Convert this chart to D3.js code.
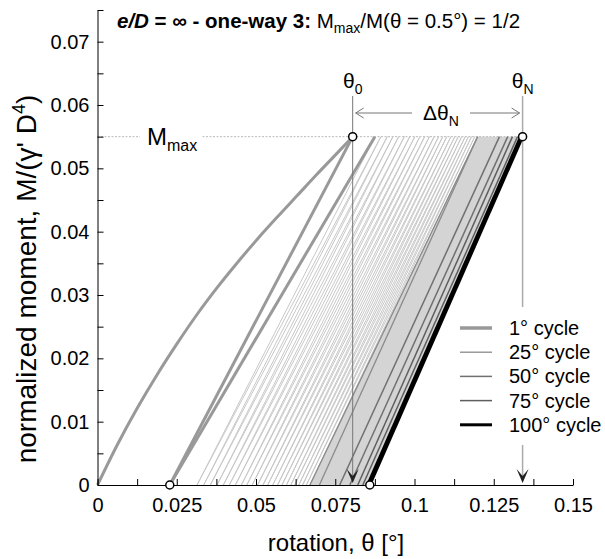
<!DOCTYPE html>
<html>
<head>
<meta charset="utf-8">
<script src="https://cdn.jsdelivr.net/npm/d3@7"></script>
<style>
  body { margin: 0; background: #fff; }
  svg text { font-family: "Liberation Sans", Arial, sans-serif; fill: #000; }
  .axis path, .axis line { stroke: #000; stroke-width: 1; fill: none; }
  .axis text { font-size: 20px; }
</style>
</head>
<body>
<svg id="chart" width="605" height="559"></svg>
<script>
// ---- data ----
var Mmax = 0.055;
var theta0 = 0.0805, thetaN = 0.1341;

// first (virgin) loading curve
var virginTheta = [0, 0.0063, 0.0126, 0.0189, 0.0252, 0.0315, 0.0378, 0.0441, 0.0504, 0.0567, 0.0630, 0.0693, 0.0756, 0.0805];
var virginM     = [0, 0.0064, 0.0122, 0.0175, 0.0224, 0.0270, 0.0312, 0.0351, 0.0388, 0.0423, 0.0457, 0.0491, 0.0524, 0.0550];

// residual rotation after first unloading
var firstResidual = 0.0228;

// peak rotation of cycles 2..25
var peakTheta = [0.0875, 0.0894, 0.0914, 0.0932, 0.0950, 0.0968, 0.0985, 0.1001, 0.1017, 0.1032,
                 0.1047, 0.1062, 0.1076, 0.1089, 0.1102, 0.1115, 0.1127, 0.1138, 0.1149, 0.1160,
                 0.1170, 0.1180, 0.1190, 0.1199];
// residual rotation (M = 0) after cycles 2..24
var residTheta = [0.0314, 0.0335, 0.0356, 0.0377, 0.0397, 0.0416, 0.0435, 0.0454, 0.0471, 0.0488,
                  0.0505, 0.0522, 0.0537, 0.0553, 0.0568, 0.0582, 0.0596, 0.0610, 0.0622, 0.0635,
                  0.0647, 0.0659, 0.0670];

// highlighted cycles: [bottom theta, top theta] for each branch
var hiNames  = ["25° cycle", "50° cycle", "75° cycle", "100° cycle"];
var hiLines  = [
  [[0.0670, 0.1199], [0.0700, 0.1199]],
  [[0.0764, 0.1268], [0.0796, 0.1294]],
  [[0.0821, 0.1309], [0.0837, 0.1325]],
  [[0.0852, 0.1335], [0.0859, 0.1341]]
];
var hiColor = ["#8a8a8a", "#707070", "#5e5e5e", "#000"];
var hiWidth = [1.3, 1.5, 1.5, 3];

var xMajor = [0, 0.025, 0.05, 0.075, 0.1, 0.125, 0.15];
var xMinor = [0.0125, 0.0375, 0.0625, 0.0875, 0.1125, 0.1375];
var yMajor = [0, 0.01, 0.02, 0.03, 0.04, 0.05, 0.06, 0.07];
var yMinor = [0.005, 0.015, 0.025, 0.035, 0.045, 0.055, 0.065, 0.075];

// ---- scales ----
var svg = d3.select("#chart");
var x = d3.scaleLinear().domain([0, 0.15]).range([97.5, 573]);
var y = d3.scaleLinear().domain([0, 0.075]).range([485, 10]);
var fmt = d3.format(".3~f");

// shaded band between cycle 25 and cycle 100
var band = [[hiLines[0][0][0], 0], [hiLines[0][0][1], Mmax], [hiLines[3][1][1], Mmax], [hiLines[3][1][0], 0]];
svg.append("path")
  .attr("d", d3.line().x(function (d) { return x(d[0]); }).y(function (d) { return y(d[1]); })(band) + "Z")
  .attr("fill", "#d4d4d4");

// Mmax guide line
svg.append("line")
  .attr("x1", x(0)).attr("x2", x(thetaN))
  .attr("y1", y(Mmax)).attr("y2", y(Mmax))
  .attr("stroke", "#bbb").attr("stroke-width", 1).attr("stroke-dasharray", "2,1.5");

// light intermediate cycles (2..24): unloading and reloading branches
var seg = function (a, b) {
  return "M" + x(a[0]) + "," + y(a[1]) + "L" + x(b[0]) + "," + y(b[1]);
};
var light = svg.append("g").attr("stroke", "#c8c8c8").attr("stroke-width", 1).attr("fill", "none");
residTheta.forEach(function (r, i) {
  light.append("path").attr("d", seg([peakTheta[i], Mmax], [r, 0]));
  light.append("path").attr("d", seg([r, 0], [peakTheta[i + 1], Mmax]));
});

// highlighted cycles
hiLines.forEach(function (pair, k) {
  pair.forEach(function (l) {
    svg.append("path").attr("d", seg([l[0], 0], [l[1], Mmax]))
      .attr("stroke", hiColor[k]).attr("stroke-width", hiWidth[k]).attr("fill", "none");
  });
});

// first cycle
var virgin = virginTheta.map(function (t, i) { return [t, virginM[i]]; });
var g1 = svg.append("g").attr("stroke", "#999").attr("stroke-width", 3).attr("fill", "none");
g1.append("path").attr("d", d3.line().curve(d3.curveMonotoneX)
  .x(function (d) { return x(d[0]); }).y(function (d) { return y(d[1]); })(virgin));
g1.append("path").attr("d", seg([theta0, Mmax], [firstResidual, 0]));
g1.append("path").attr("d", seg([firstResidual, 0], [peakTheta[0], Mmax]));

// axes
svg.append("g").attr("class", "axis").attr("transform", "translate(0," + y(0) + ")")
  .call(d3.axisBottom(x).tickValues(xMajor.concat(xMinor)).tickSize(-6).tickSizeOuter(0).tickPadding(13)
    .tickFormat(function (d) { return xMajor.indexOf(d) >= 0 ? fmt(d) : ""; }));
svg.append("g").attr("class", "axis").attr("transform", "translate(" + x(0) + ",0)")
  .call(d3.axisLeft(y).tickValues(yMajor.concat(yMinor)).tickSize(-6).tickSizeOuter(0).tickPadding(8)
    .tickFormat(function (d) { return yMajor.indexOf(d) >= 0 ? fmt(d) : ""; }));

// theta0 and thetaN guides
var arrowDown = function (cx, cy) {
  return "M" + (cx - 6) + "," + (cy - 14) + "L" + cx + "," + cy + "L" + (cx + 6) + "," + (cy - 14) +
    "L" + cx + "," + (cy - 7) + "Z";
};
svg.append("line").attr("x1", x(theta0)).attr("x2", x(theta0)).attr("y1", 96).attr("y2", y(0) - 4)
  .attr("stroke", "#777").attr("stroke-width", 1);
svg.append("line").attr("x1", x(thetaN)).attr("x2", x(thetaN)).attr("y1", 96).attr("y2", 307)
  .attr("stroke", "#aaa").attr("stroke-width", 1.5);
svg.append("line").attr("x1", x(thetaN)).attr("x2", x(thetaN)).attr("y1", 445).attr("y2", y(0) - 4)
  .attr("stroke", "#aaa").attr("stroke-width", 1.5);
svg.append("path").attr("d", arrowDown(x(theta0), y(0) - 2)).attr("fill", "#222");
svg.append("path").attr("d", arrowDown(x(thetaN), y(0) - 2)).attr("fill", "#222");

// delta theta arrow
var ay = 113;
var da = svg.append("g").attr("stroke", "#777").attr("stroke-width", 1).attr("fill", "none");
da.append("line").attr("x1", x(theta0) + 3).attr("x2", 412).attr("y1", ay).attr("y2", ay);
da.append("line").attr("x1", 470).attr("x2", x(thetaN) - 3).attr("y1", ay).attr("y2", ay);
da.append("path").attr("d", "M" + (x(theta0) + 11) + "," + (ay - 5) + "L" + (x(theta0) + 3) + "," + ay + "L" + (x(theta0) + 11) + "," + (ay + 5));
da.append("path").attr("d", "M" + (x(thetaN) - 11) + "," + (ay - 5) + "L" + (x(thetaN) - 3) + "," + ay + "L" + (x(thetaN) - 11) + "," + (ay + 5));

// markers
var marks = [[theta0, Mmax], [thetaN, Mmax], [firstResidual, 0], [hiLines[3][1][0], 0]];
svg.selectAll("circle.mk").data(marks).enter().append("circle").attr("class", "mk")
  .attr("cx", function (d) { return x(d[0]); }).attr("cy", function (d) { return y(d[1]); })
  .attr("r", 4).attr("fill", "#fff").attr("stroke", "#000").attr("stroke-width", 1.5);

// labels
var t0 = svg.append("text").attr("x", x(theta0)).attr("y", 88).attr("text-anchor", "middle").style("font-size", "21px");
t0.append("tspan").text("θ");
t0.append("tspan").attr("dy", 6).style("font-size", "14px").text("0");
var tN = svg.append("text").attr("x", x(thetaN)).attr("y", 88).attr("text-anchor", "middle").style("font-size", "21px");
tN.append("tspan").text("θ");
tN.append("tspan").attr("dy", 6).style("font-size", "14px").text("N");
var dT = svg.append("text").attr("x", 441).attr("y", 120).attr("text-anchor", "middle").style("font-size", "21px");
dT.append("tspan").text("Δθ");
dT.append("tspan").attr("dy", 6).style("font-size", "14px").text("N");

svg.append("rect").attr("x", 140).attr("y", y(Mmax) - 3).attr("width", 62).attr("height", 6).attr("fill", "#fff");
var mm = svg.append("text").attr("x", 147).attr("y", 145).style("font-size", "24px");
mm.append("tspan").text("M");
mm.append("tspan").attr("dy", 6).style("font-size", "16px").text("max");

// title
var title = svg.append("text").attr("x", 117).attr("y", 28).style("font-size", "20.5px");
title.append("tspan").style("font-weight", "bold").style("font-style", "italic").text("e/D");
title.append("tspan").style("font-weight", "bold").text(" = ∞ - one-way 3: ");
title.append("tspan").text("M");
title.append("tspan").attr("dy", 5).style("font-size", "14px").text("max");
title.append("tspan").attr("dy", -5).text("/M(θ = 0.5°) = 1/2");

// axis titles
svg.append("text").attr("x", 336).attr("y", 551).attr("text-anchor", "middle").style("font-size", "24px")
  .text("rotation, θ [°]");
var yl = svg.append("text").attr("transform", "translate(36,279) rotate(-90)").attr("text-anchor", "middle")
  .style("font-size", "28px");
yl.append("tspan").text("normalized moment, M/(γ' D");
yl.append("tspan").attr("dy", -11).style("font-size", "18px").text("4");
yl.append("tspan").attr("dy", 11).text(")");

// legend
var legNames = ["1° cycle"].concat(hiNames);
var legColor = ["#999"].concat(hiColor);
var legWidth = [3.5].concat(hiWidth);
var leg = svg.append("g").attr("transform", "translate(460,328)");
legNames.forEach(function (n, i) {
  leg.append("line").attr("x1", 0).attr("x2", 32).attr("y1", i * 24.2).attr("y2", i * 24.2)
    .attr("stroke", legColor[i]).attr("stroke-width", legWidth[i]);
  leg.append("text").attr("x", 49).attr("y", i * 24.2 + 7).style("font-size", "20px").text(n);
});
</script>
</body>
</html>
